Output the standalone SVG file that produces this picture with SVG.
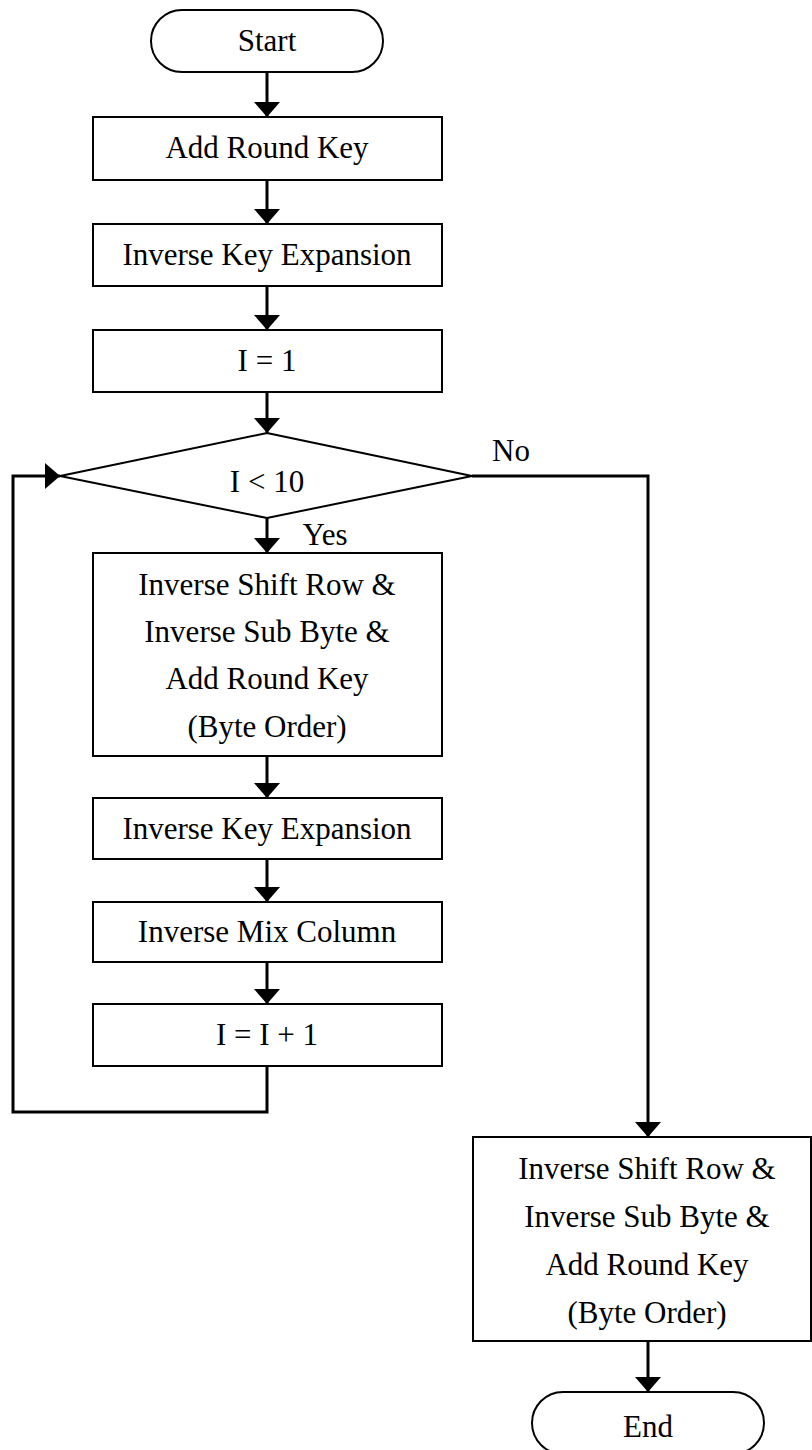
<svg xmlns="http://www.w3.org/2000/svg" width="812" height="1450" viewBox="0 0 812 1450">
  <defs>
    <style>
      .shape { fill: #ffffff; stroke: #000000; stroke-width: 2; }
      .wire { fill: none; stroke: #000000; stroke-width: 3; }
      .label { font-family: "Liberation Serif", "DejaVu Serif", serif; font-size: 31px; fill: #000000; text-anchor: middle; }
    </style>
    <marker id="arrow" markerUnits="userSpaceOnUse" markerWidth="16" markerHeight="27" refX="15" refY="13" orient="auto">
      <path d="M0,0 L15,13 L0,26 Z" fill="#000000"/>
    </marker>
  </defs>
  <rect width="812" height="1450" fill="#ffffff"/>

  <!-- connectors -->
  <g id="connectors">
    <line class="wire" x1="267" y1="72" x2="267" y2="117" marker-end="url(#arrow)"/>
    <line class="wire" x1="267" y1="180" x2="267" y2="224" marker-end="url(#arrow)"/>
    <line class="wire" x1="267" y1="286" x2="267" y2="330" marker-end="url(#arrow)"/>
    <line class="wire" x1="267" y1="392" x2="267" y2="433" marker-end="url(#arrow)"/>
    <line class="wire" x1="267" y1="518" x2="267" y2="553" marker-end="url(#arrow)"/>
    <line class="wire" x1="267" y1="756" x2="267" y2="798" marker-end="url(#arrow)"/>
    <line class="wire" x1="267" y1="859" x2="267" y2="902" marker-end="url(#arrow)"/>
    <line class="wire" x1="267" y1="962" x2="267" y2="1004" marker-end="url(#arrow)"/>
    <polyline class="wire" points="267,1066 267,1112 13,1112 13,476 60,476" marker-end="url(#arrow)"/>
    <polyline class="wire" points="472,476 648,476 648,1137" marker-end="url(#arrow)"/>
    <line class="wire" x1="648" y1="1341" x2="648" y2="1392" marker-end="url(#arrow)"/>
    <text class="label" x="511" y="461">No</text>
    <text class="label" x="325" y="545">Yes</text>
  </g>

  <g id="start">
    <rect class="shape" x="151" y="10" width="232" height="62" rx="31" ry="31"/>
    <text class="label" x="267" y="51">Start</text>
  </g>

  <g id="add-round-key">
    <rect class="shape" x="93" y="117" width="349" height="63"/>
    <text class="label" x="267" y="158">Add Round Key</text>
  </g>

  <g id="inverse-key-expansion-1">
    <rect class="shape" x="93" y="224" width="349" height="62"/>
    <text class="label" x="267" y="265">Inverse Key Expansion</text>
  </g>

  <g id="init-counter">
    <rect class="shape" x="93" y="330" width="349" height="62"/>
    <text class="label" x="267" y="371">I = 1</text>
  </g>

  <g id="loop-test">
    <polygon class="shape" points="267,433 472,476 267,518 60,476"/>
    <text class="label" x="267" y="492">I &lt; 10</text>
  </g>

  <g id="round-body">
    <rect class="shape" x="93" y="553" width="349" height="203"/>
    <text class="label" x="267" y="595">Inverse Shift Row &amp;</text>
    <text class="label" x="267" y="642">Inverse Sub Byte &amp;</text>
    <text class="label" x="267" y="689">Add Round Key</text>
    <text class="label" x="267" y="737">(Byte Order)</text>
  </g>

  <g id="inverse-key-expansion-2">
    <rect class="shape" x="93" y="798" width="349" height="61"/>
    <text class="label" x="267" y="839">Inverse Key Expansion</text>
  </g>

  <g id="inverse-mix-column">
    <rect class="shape" x="93" y="902" width="349" height="60"/>
    <text class="label" x="267" y="942">Inverse Mix Column</text>
  </g>

  <g id="increment">
    <rect class="shape" x="93" y="1004" width="349" height="62"/>
    <text class="label" x="267" y="1045">I = I + 1</text>
  </g>

  <g id="final-round">
    <rect class="shape" x="473" y="1137" width="338" height="204"/>
    <text class="label" x="647" y="1179">Inverse Shift Row &amp;</text>
    <text class="label" x="647" y="1227">Inverse Sub Byte &amp;</text>
    <text class="label" x="647" y="1275">Add Round Key</text>
    <text class="label" x="647" y="1323">(Byte Order)</text>
  </g>

  <g id="end">
    <rect class="shape" x="532" y="1392" width="232" height="62" rx="31" ry="31"/>
    <text class="label" x="648" y="1437">End</text>
  </g>
</svg>
